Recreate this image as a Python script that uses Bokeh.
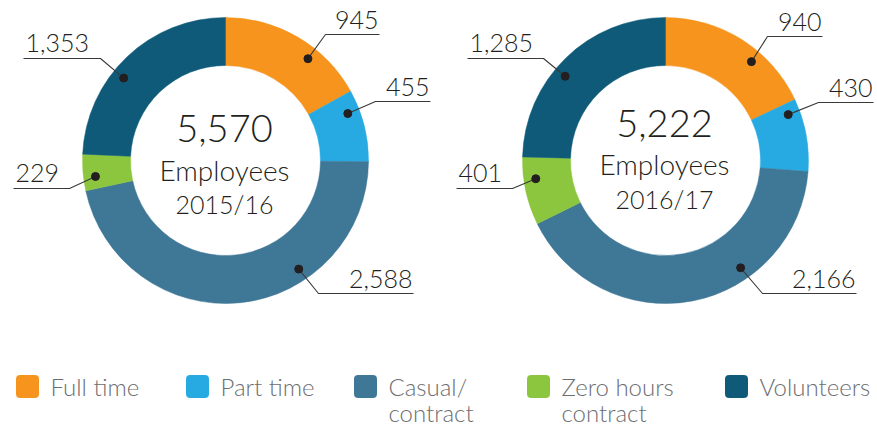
import math
import numpy as np
from bokeh.plotting import figure
from bokeh.models import Range1d, ColumnDataSource
from bokeh.core.properties import value
from bokeh.embed import file_html
from bokeh.resources import INLINE

# ---------------- data ----------------
categories = ["Full time", "Part time", "Casual/\ncontract", "Zero hours\ncontract", "Volunteers"]
colors = ["#F7941E", "#27AAE1", "#3F7797", "#8CC63F", "#0F5A78"]
years = ["2015/16", "2016/17"]
values_2015 = [945, 455, 2588, 229, 1353]
values_2016 = [940, 430, 2166, 401, 1285]
center_word = "Employees"

# ---------------- layout (page pixel coordinates) ----------------
PAGE_W, PAGE_H = 877, 429
def Y(y):
    return PAGE_H - y

def TY(baseline, fs):
    # text is placed by its cap centre
    return Y(baseline - 0.36 * fs)

R_OUT, R_IN, R_DOT = 143, 95, 131
# (dot angle clockwise from top in degrees, underline y, x near donut, x far end)
label_layout_2015 = [(39, 34, 325, 379), (69, 101, 375, 430), (146, 293, 318, 413),
                     (263, 188, 69, 13), (309, 58, 100, 23)]
label_layout_2016 = [(41, 36, 767, 822), (69.5, 102, 818, 873), (145, 293, 762, 856),
                     (262, 188, 512, 456), (310, 58, 543, 467)]

donuts = [
    dict(vals=values_2015, year=years[0], cx=225, cy=160, base=(142, 180, 212), layout=label_layout_2015),
    dict(vals=values_2016, year=years[1], cx=665, cy=160, base=(137, 174, 207), layout=label_layout_2016),
]

FONT = value("Lato Light, Lato")
DARK = "#231F20"
LBL_FS = 25

p = figure(width=PAGE_W, height=PAGE_H, x_range=Range1d(0, PAGE_W), y_range=Range1d(0, PAGE_H),
           output_backend="svg", toolbar_location=None, x_axis_type=None, y_axis_type=None,
           min_border=0, outline_line_color=None)
p.grid.visible = False
p.background_fill_color = "white"
p.border_fill_color = "white"

for d in donuts:
    vals = d["vals"]
    total = sum(vals)
    cum = np.cumsum([0] + vals)
    start = [math.pi / 2 - 2 * math.pi * c / total for c in cum[:-1]]
    end = [math.pi / 2 - 2 * math.pi * c / total for c in cum[1:]]
    src = ColumnDataSource(dict(start=start, end=end, color=colors))
    p.annular_wedge(x=d["cx"], y=Y(d["cy"]), inner_radius=R_IN, outer_radius=R_OUT,
                    start_angle="start", end_angle="end", direction="clock",
                    fill_color="color", line_color="color", line_width=0.5, source=src)

    # leader lines, dots, labels
    xs, ys, dx, dy = [], [], [], []
    tr_x, tr_y, tr_t = [], [], []
    tl_x, tl_y, tl_t = [], [], []
    for v, (ang, uy, xn, xf) in zip(vals, d["layout"]):
        a = math.radians(ang)
        px = d["cx"] + R_DOT * math.sin(a)
        py = d["cy"] - R_DOT * math.cos(a)
        dx.append(px); dy.append(Y(py))
        xs.append([px, xn, xf]); ys.append([Y(py), Y(uy), Y(uy)])
        if xf > xn:
            tr_x.append(xf - 1); tr_y.append(TY(uy - 6, LBL_FS)); tr_t.append(f"{v:,}")
        else:
            tl_x.append(xf + 2); tl_y.append(TY(uy - 7, LBL_FS)); tl_t.append(f"{v:,}")
    p.multi_line(xs=xs, ys=ys, line_color="#3a3a3a", line_width=1.1)
    p.scatter(x=dx, y=dy, size=8, fill_color=DARK, line_color=DARK)
    p.text(x=tr_x, y=tr_y, text=tr_t, text_align="right", text_baseline="alphabetic",
           text_font=FONT, text_font_size=f"{LBL_FS}px", text_color=DARK)
    p.text(x=tl_x, y=tl_y, text=tl_t, text_align="left", text_baseline="alphabetic",
           text_font=FONT, text_font_size=f"{LBL_FS}px", text_color=DARK)

    # centre texts
    b1, b2, b3 = d["base"]
    for txt, b, fs in [(f"{total:,}", b1, 38), (center_word, b2, 28), (d["year"], b3, 25)]:
        p.text(x=[d["cx"] - 1], y=[TY(b, fs)], text=[txt], text_align="center",
               text_baseline="alphabetic", text_font=FONT, text_font_size=f"{fs}px",
               text_color=DARK)

# legend
leg_x = [16, 186, 354, 527, 725]
sq = 22
LEG_FS = 24
p.quad(left=leg_x, right=[x + sq for x in leg_x], top=Y(375), bottom=Y(397),
       fill_color=colors, line_color=colors, border_radius=3)
lx, ly, lt = [], [], []
for x, c in zip(leg_x, categories):
    for i, line in enumerate(c.split("\n")):
        lx.append(x + sq + 12)
        ly.append(TY(395 + 26 * i, LEG_FS))
        lt.append(line)
p.text(x=lx, y=ly, text=lt, text_align="left", text_baseline="alphabetic",
       text_font=FONT, text_font_size=f"{LEG_FS}px", text_color="#6D6E71")

open("out.html", "w").write(file_html(p, INLINE))
